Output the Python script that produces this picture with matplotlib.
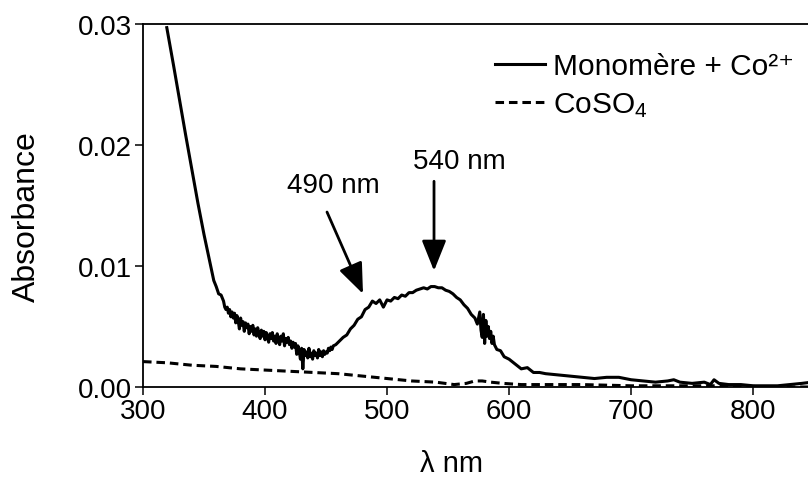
import matplotlib
matplotlib.use("Agg")
import matplotlib.pyplot as plt

plt.rcParams['font.family'] = ['Liberation Sans', 'DejaVu Sans']
plt.rcParams['mathtext.fontset'] = 'custom'
plt.rcParams['mathtext.rm'] = 'Liberation Sans'
plt.rcParams['mathtext.it'] = 'Liberation Sans'

# ---- data ----
wl_mono = [319.5, 325, 330, 335, 340, 345, 350, 355, 358, 360, 362, 364,
           366, 367, 368, 369, 370, 371, 372, 373, 374, 375, 376, 377, 378, 379,
           380, 381, 382, 383, 384, 385, 386, 387, 388, 389, 390, 391, 392, 393,
           394, 395, 396, 397, 398, 399, 400, 401, 402, 403, 404, 405, 406, 407,
           408, 409, 410, 411, 412, 413, 414, 415, 416, 417, 418, 419, 420, 421,
           422, 423, 424, 425, 426, 427, 428, 429, 430, 431, 432, 433, 434, 435,
           436, 437, 438, 439, 440, 441, 442, 443, 444, 445, 446, 447, 448, 449,
           450, 451, 452, 453, 454, 455, 456,
           458, 461, 464, 467, 470, 473, 476, 479, 482, 485, 488, 491, 494, 497,
           500, 503, 506, 509, 512, 515, 518, 521, 524, 527, 530, 533, 536, 539,
           542, 545, 548, 551, 554, 557, 560, 563, 566, 569, 572, 574, 576, 577,
           578, 579, 580, 581, 582, 583, 584, 585, 586, 587, 588, 590, 593, 596,
           600, 605, 610, 615, 620, 625, 630, 640, 650, 660, 670, 680, 690, 700,
           710, 720, 730, 735, 740, 750, 760, 765, 768, 772, 780, 790, 800, 810,
           820, 830, 840, 848]
abs_mono = [0.0297, 0.0266, 0.0237, 0.0208, 0.0180, 0.0152, 0.0126, 0.0102, 0.0088, 0.0083, 0.0077, 0.0076,
            0.0071, 0.0066, 0.0064, 0.0066, 0.0061, 0.0064, 0.0058, 0.0062, 0.0057, 0.0061, 0.0053, 0.0059, 0.0055, 0.0048,
            0.0057, 0.0051, 0.0054, 0.0046, 0.0053, 0.0049, 0.0052, 0.0044, 0.0050, 0.0046, 0.0051, 0.0043, 0.0048, 0.0042,
            0.0049, 0.0044, 0.0040, 0.0047, 0.0042, 0.0046, 0.0039, 0.0045, 0.0041, 0.0037, 0.0044, 0.0040, 0.0045, 0.0038,
            0.0042, 0.0036, 0.0044, 0.0039, 0.0035, 0.0042, 0.0038, 0.0044, 0.0034, 0.0040, 0.0037, 0.0041, 0.0035, 0.0038,
            0.0032, 0.0037, 0.0033, 0.0036, 0.0027, 0.0034, 0.0030, 0.0023, 0.0032, 0.0015, 0.0031, 0.0026, 0.0029, 0.0024,
            0.0032, 0.0025, 0.0028, 0.0023, 0.0030, 0.0026, 0.0028, 0.0024, 0.0031, 0.0026, 0.0029, 0.0025, 0.0030, 0.0027,
            0.0029, 0.0028, 0.0032, 0.0030, 0.0033, 0.0031, 0.0034,
            0.0035, 0.0038, 0.0041, 0.0043, 0.0048, 0.0051, 0.0056, 0.0058, 0.0064, 0.0066, 0.0071, 0.0069, 0.0072, 0.0066,
            0.0072, 0.0071, 0.0074, 0.0073, 0.0076, 0.0075, 0.0078, 0.0078, 0.0080, 0.0081, 0.0082, 0.0081, 0.0083, 0.0083,
            0.0082, 0.0082, 0.0080, 0.0079, 0.0077, 0.0074, 0.0072, 0.0068, 0.0065, 0.0060, 0.0057, 0.0052, 0.0062, 0.0047,
            0.0041, 0.0060, 0.0036, 0.0055, 0.0042, 0.0050, 0.0040, 0.0046, 0.0036, 0.0042, 0.0035, 0.0031, 0.0030, 0.0025,
            0.0023, 0.0019, 0.0015, 0.0016, 0.0012, 0.0012, 0.0011, 0.0010, 0.0009, 0.0008, 0.0007, 0.0008, 0.0008, 0.0006,
            0.0005, 0.0004, 0.0005, 0.0006, 0.0004, 0.0003, 0.0004, 0.0002, 0.0006, 0.0003, 0.0002, 0.0002, 0.0001, 0.0001,
            0.0001, 0.0002, 0.0003, 0.0004]

wl_coso4 = [300, 320, 340, 360, 380, 400, 420, 440, 460, 480, 500, 520, 540, 555, 565,
            572, 578, 585, 595, 610, 630, 660, 700, 740, 780, 820, 848]
abs_coso4 = [0.0021, 0.0020, 0.0018, 0.0017, 0.0015, 0.0014, 0.0013, 0.0012, 0.0011, 0.0009,
             0.0007, 0.0005, 0.0004, 0.0002, 0.0003, 0.0005, 0.0005, 0.0004, 0.0003, 0.0002,
             0.0002, 0.0002, 0.0001, 0.0001, 0.0001, 0.0000, 0.0000]

series_labels = ["Monomère + Co²⁺", "CoSO$_4$"]
x_ticks = [300, 400, 500, 600, 700, 800]
y_ticks = [0.00, 0.01, 0.02, 0.03]
y_ticklabels = ["0.00", "0.01", "0.02", "0.03"]

peak_labels = ["490 nm", "540 nm"]
peak_tips = [(480.3, 0.0077), (538.5, 0.0096)]
peak_tails = [(450.8, 0.01446), (538.5, 0.0170)]
peak_text_pos = [(455.7, 0.0167), (559.5, 0.0187)]

# ---- figure ----
W, H = 808, 481
fig = plt.figure(figsize=(W / 100, H / 100), dpi=100)
ax = fig.add_axes([143 / W, (H - 388) / H, (W - 143) / W, (388 - 25) / H])

ax.plot(wl_mono, abs_mono, color='black', lw=2.2, label=series_labels[0])
ax.plot(wl_coso4, abs_coso4, color='black', lw=2.2, dashes=(2.8, 1.6), label=series_labels[1])

ax.set_xlim(300, 845)
ax.set_ylim(0, 0.03)
ax.set_xticks(x_ticks)
ax.set_yticks(y_ticks)
ax.set_yticklabels(y_ticklabels)
ax.tick_params(direction='out', length=6, width=1.1, labelsize=20, pad=2)
for s in ['left', 'bottom', 'top']:
    ax.spines[s].set_linewidth(1.3)
ax.spines['right'].set_visible(False)

ax.set_xlabel("λ nm", fontsize=21)
ax.set_ylabel("Absorbance", fontsize=23)
ax.xaxis.set_label_coords((452 - 143) / (W - 143), -(464 - 388) / 363)
ax.xaxis.label.set_va('center')
ax.yaxis.set_label_coords(-(143 - 27) / (W - 143), (388 - 217) / 363)
ax.yaxis.label.set_va('center')

for lab, tip, tail, tp in zip(peak_labels, peak_tips, peak_tails, peak_text_pos):
    ax.annotate('', xy=tip, xytext=tail,
                arrowprops=dict(arrowstyle='-|>,head_length=0.75,head_width=0.3',
                                lw=2.0, color='black', mutation_scale=25,
                                shrinkA=0, shrinkB=0))
    ax.text(tp[0], tp[1], lab, fontsize=20, ha='center', va='center')

ax.legend(loc='upper left', bbox_to_anchor=((495 - 143) / (W - 143), (388 - 53) / 363),
          frameon=False, fontsize=21.5, handlelength=1.67, handletextpad=0.27,
          labelspacing=0.35, borderaxespad=0, borderpad=0)

fig.savefig("out.png", dpi=100)
